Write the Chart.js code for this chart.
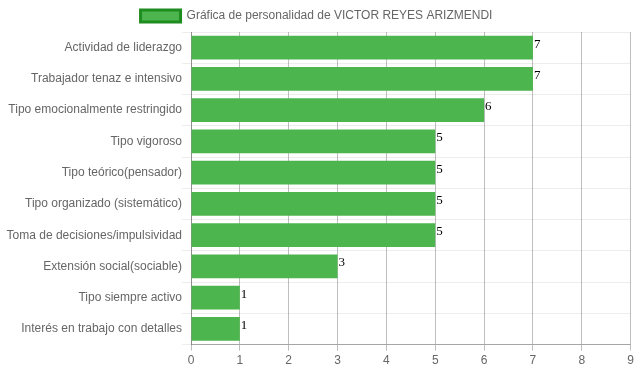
<!DOCTYPE html>
<html><head><meta charset="utf-8">
<script src="https://cdn.jsdelivr.net/npm/chart.js@4/dist/chart.umd.min.js"></script>
<style>html,body{margin:0;padding:0;background:#fff}#w{width:637px;height:371px}</style>
</head><body><div id="w"><canvas id="c"></canvas></div>
<script>
const categories = ["Actividad de liderazgo","Trabajador tenaz e intensivo","Tipo emocionalmente restringido","Tipo vigoroso","Tipo teórico(pensador)","Tipo organizado (sistemático)","Toma de decisiones/impulsividad","Extensión social(sociable)","Tipo siempre activo","Interés en trabajo con detalles"];
const values = [7,7,6,5,5,5,5,3,1,1];
const seriesLabel = "Gráfica de personalidad de VICTOR REYES ARIZMENDI";
const xTicks = [0,1,2,3,4,5,6,7,8,9];

const valueLabels = {
  id:'valueLabels',
  afterDatasetsDraw(chart){
    const ctx = chart.ctx;
    ctx.save();
    ctx.font = '13px "Liberation Serif", "Times New Roman", serif';
    ctx.fillStyle = '#000';
    ctx.textAlign = 'left';
    ctx.textBaseline = 'top';
    const meta = chart.getDatasetMeta(0);
    meta.data.forEach((bar,i)=>{
      ctx.fillText(String(values[i]), bar.x + 1, bar.y - bar.height/2 + 2);
    });
    ctx.restore();
  }
};

Chart.defaults.font.family = '"Liberation Sans", Arial, sans-serif';
Chart.defaults.font.size = 12;
Chart.defaults.color = '#666';

new Chart(document.getElementById('c'), {
  type:'bar',
  data:{ labels:categories, datasets:[{ label:seriesLabel, data:values, backgroundColor:'#4db54d', borderWidth:0, barPercentage:0.95, categoryPercentage:0.8 }]},
  options:{
    indexAxis:'y', responsive:true, maintainAspectRatio:false, animation:false,
    layout:{padding:{left:0,right:4,top:0,bottom:0}},
    plugins:{
      tooltip:{enabled:false},
      legend:{ labels:{ boxWidth:40, boxHeight:12, color:'#666',
        generateLabels(chart){ return [{text:seriesLabel, fillStyle:'#4db54d', strokeStyle:'#1e8c1e', lineWidth:3, datasetIndex:0, fontColor:'#666'}]; } } }
    },
    scales:{
      x:{ min:0, max:9, ticks:{stepSize:1, color:'#666', callback:(v)=>xTicks.includes(v)?String(v):''},
          grid:{color:'rgba(0,0,0,0.25)', tickLength:6}, border:{color:'rgba(0,0,0,0.3)'} },
      y:{ ticks:{color:'#666', padding:0}, grid:{color:'rgba(0,0,0,0.07)', tickLength:9, offset:true}, border:{color:'rgba(0,0,0,0.25)'},
          afterFit(scale){ scale.width = 191; } }
    }
  },
  plugins:[valueLabels]
});
</script></body></html>
